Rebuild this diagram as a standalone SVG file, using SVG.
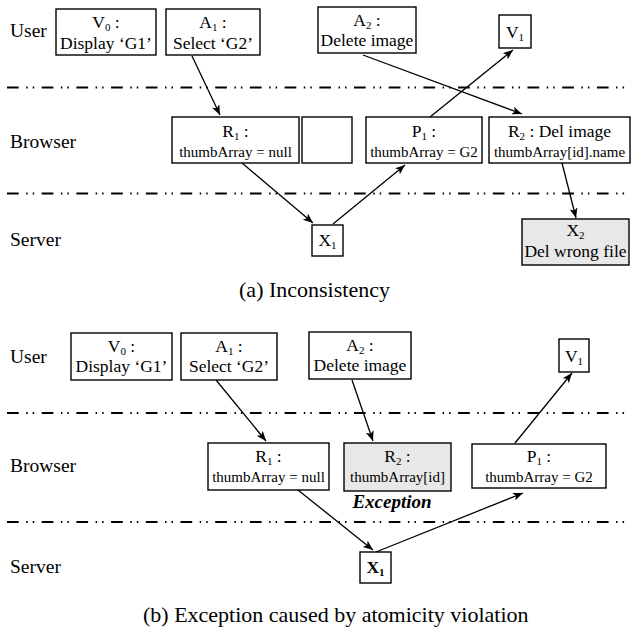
<svg xmlns="http://www.w3.org/2000/svg" width="631" height="633" viewBox="0 0 631 633" font-family="'Liberation Serif', 'Times New Roman', 'DejaVu Serif', serif">
<style>
text{font-family:'Liberation Serif','Times New Roman','DejaVu Serif',serif;fill:#000}
.lbl{font-size:19.5px}
.bt{font-size:17.5px;text-anchor:middle}
.st{font-size:15px;text-anchor:middle}
.cap{font-size:22px}
.box{fill:#fff;stroke:#000;stroke-width:1.4}
.gbox{fill:#e8e8e8;stroke:#000;stroke-width:1.4}
.sep{stroke:#000;stroke-width:1.8;stroke-dasharray:11.7 7.5 1.5 5 1.5 7.5;fill:none}
.conn path{stroke:#000;stroke-width:1.3;fill:none;marker-end:url(#ah)}
</style>
<defs>
<marker id="ah" viewBox="0 0 10 8" refX="10" refY="4" markerWidth="10" markerHeight="8" markerUnits="userSpaceOnUse" orient="auto"><path d="M0,0 L10,4 L0,8 L2.5,4 z" fill="#000"/></marker>
</defs>
<rect width="631" height="633" fill="#fff"/>

<!-- (a) -->
<g id="a-lanes">
<line class="sep" x1="7" y1="87.5" x2="631" y2="87.5"/>
<line class="sep" x1="7" y1="193.5" x2="631" y2="193.5"/>
<text class="lbl" x="10" y="37">User</text>
<text class="lbl" x="10" y="148">Browser</text>
<text class="lbl" x="10" y="246">Server</text>
<text class="cap" x="314.5" y="297" text-anchor="middle">(a) Inconsistency</text>
</g>
<g id="a-V0"><rect class="box" x="56" y="9" width="100" height="46"/>
<text class="bt" x="106" y="28">V<tspan font-size="11" dy="3">0</tspan><tspan dy="-3"> :</tspan></text>
<text class="bt" x="106" y="49">Display ‘G1’</text></g>
<g id="a-A1"><rect class="box" x="166" y="9" width="94" height="46"/>
<text class="bt" x="213" y="28">A<tspan font-size="11" dy="3">1</tspan><tspan dy="-3"> :</tspan></text>
<text class="bt" x="213" y="49">Select ‘G2’</text></g>
<g id="a-A2"><rect class="box" x="318" y="7" width="98" height="46"/>
<text class="bt" x="367" y="26">A<tspan font-size="11" dy="3">2</tspan><tspan dy="-3"> :</tspan></text>
<text class="bt" x="367" y="46">Delete image</text></g>
<g id="a-V1"><rect class="box" x="499" y="15" width="32" height="33"/>
<text class="bt" x="515" y="38">V<tspan font-size="11" dy="3">1</tspan></text></g>
<g id="a-R1"><rect class="box" x="172" y="117" width="127" height="46"/>
<text class="bt" x="235.5" y="137">R<tspan font-size="11" dy="3">1</tspan><tspan dy="-3"> :</tspan></text>
<text class="st" x="235.5" y="157">thumbArray = null</text></g>
<g id="a-empty"><rect class="box" x="302" y="117" width="50" height="46"/></g>
<g id="a-P1"><rect class="box" x="366" y="117" width="116" height="46"/>
<text class="bt" x="424" y="137">P<tspan font-size="11" dy="3">1</tspan><tspan dy="-3"> :</tspan></text>
<text class="st" x="424" y="157">thumbArray = G2</text></g>
<g id="a-R2"><rect class="box" x="489" y="117" width="141" height="46"/>
<text class="bt" x="559.5" y="137">R<tspan font-size="11" dy="3">2</tspan><tspan dy="-3"> : Del image</tspan></text>
<text class="st" x="559.5" y="157">thumbArray[id].name</text></g>
<g id="a-X1"><rect class="box" x="312" y="225" width="31" height="31"/>
<text class="bt" x="327.5" y="246">X<tspan font-size="11" dy="3">1</tspan></text></g>
<g id="a-X2"><rect class="gbox" x="522" y="219" width="107" height="46"/>
<text class="bt" x="575.5" y="236">X<tspan font-size="11" dy="3">2</tspan></text>
<text class="bt" x="575.5" y="257">Del wrong file</text></g>
<g id="a-connectors" class="conn">
<path d="M192,56 L220,115"/>
<path d="M363,55 L522,114"/>
<path d="M430,117 L513,50"/>
<path d="M242,163 L313,223"/>
<path d="M333,224 L405,165"/>
<path d="M562,163 L576,218"/>
</g>

<!-- (b) -->
<g id="b-lanes">
<line class="sep" x1="7" y1="413" x2="631" y2="413"/>
<line class="sep" x1="7" y1="522" x2="631" y2="522"/>
<text class="lbl" x="10" y="363">User</text>
<text class="lbl" x="10" y="472">Browser</text>
<text class="lbl" x="10" y="573">Server</text>
<text class="cap" x="143" y="622">(b) Exception caused by atomicity violation</text>
</g>
<g id="b-V0"><rect class="box" x="71" y="333" width="101" height="47"/>
<text class="bt" x="121.5" y="352">V<tspan font-size="11" dy="3">0</tspan><tspan dy="-3"> :</tspan></text>
<text class="bt" x="121.5" y="372">Display ‘G1’</text></g>
<g id="b-A1"><rect class="box" x="181" y="333" width="96" height="47"/>
<text class="bt" x="229" y="352">A<tspan font-size="11" dy="3">1</tspan><tspan dy="-3"> :</tspan></text>
<text class="bt" x="229" y="372">Select ‘G2’</text></g>
<g id="b-A2"><rect class="box" x="309" y="332" width="102" height="47"/>
<text class="bt" x="360" y="351">A<tspan font-size="11" dy="3">2</tspan><tspan dy="-3"> :</tspan></text>
<text class="bt" x="360" y="371">Delete image</text></g>
<g id="b-V1"><rect class="box" x="559" y="339" width="30" height="33"/>
<text class="bt" x="574" y="362">V<tspan font-size="11" dy="3">1</tspan></text></g>
<g id="b-R1"><rect class="box" x="208" y="443" width="121" height="47"/>
<text class="bt" x="268.5" y="462">R<tspan font-size="11" dy="3">1</tspan><tspan dy="-3"> :</tspan></text>
<text class="st" x="268.5" y="482">thumbArray = null</text></g>
<g id="b-R2"><rect class="gbox" x="344" y="443" width="107" height="48"/>
<text class="bt" x="397.5" y="462">R<tspan font-size="11" dy="3">2</tspan><tspan dy="-3"> :</tspan></text>
<text class="st" x="397.5" y="482">thumbArray[id]</text>
<text x="392" y="508" font-size="19" font-weight="bold" font-style="italic" text-anchor="middle">Exception</text></g>
<g id="b-P1"><rect class="box" x="472" y="444" width="134" height="44"/>
<text class="bt" x="539" y="462">P<tspan font-size="11" dy="3">1</tspan><tspan dy="-3"> :</tspan></text>
<text class="st" x="539" y="482">thumbArray = G2</text></g>
<g id="b-X1"><rect class="box" x="360" y="552" width="31" height="31" stroke-width="2"/>
<text class="bt" x="375.5" y="573" font-weight="bold">X<tspan font-size="11" dy="3">1</tspan></text></g>
<g id="b-connectors" class="conn">
<path d="M216,380 L266,441"/>
<path d="M352,380 L373,441"/>
<path d="M515,443 L572,373"/>
<path d="M298,490 L373,550"/>
<path d="M376,552 L523,493"/>
</g>
</svg>
